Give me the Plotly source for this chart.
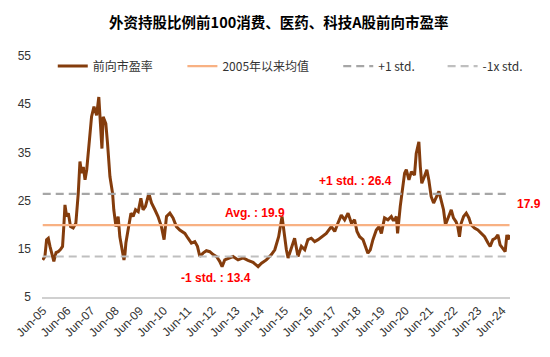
import plotly.graph_objects as go

# ---- data (time as decimal year, forward P/E) ----
dates = [
    2005.41, 2005.50, 2005.57, 2005.64, 2005.71, 2005.78, 2005.87, 2005.96, 2006.05, 2006.15,
    2006.23, 2006.29, 2006.33, 2006.40, 2006.47, 2006.56, 2006.67, 2006.78, 2006.88, 2006.95,
    2007.02, 2007.09, 2007.16, 2007.23, 2007.33, 2007.43, 2007.53, 2007.64, 2007.73, 2007.82,
    2007.86, 2007.91, 2008.02, 2008.09, 2008.19, 2008.30, 2008.35, 2008.44, 2008.53, 2008.60,
    2008.71, 2008.77, 2008.81, 2008.85, 2008.94, 2009.06, 2009.15, 2009.25, 2009.36, 2009.47,
    2009.56, 2009.66, 2009.80, 2009.91, 2010.05, 2010.18, 2010.32, 2010.43, 2010.53, 2010.67,
    2010.80, 2010.94, 2011.08, 2011.29, 2011.42, 2011.56, 2011.70, 2011.81, 2011.91, 2012.04,
    2012.18, 2012.32, 2012.46, 2012.60, 2012.73, 2012.83, 2012.94, 2013.15, 2013.28, 2013.49,
    2013.70, 2013.90, 2014.11, 2014.32, 2014.46, 2014.66, 2014.87, 2015.01, 2015.17, 2015.31,
    2015.38, 2015.49, 2015.56, 2015.70, 2015.83, 2015.97, 2016.11, 2016.25, 2016.38, 2016.52,
    2016.66, 2016.80, 2016.94, 2017.14, 2017.35, 2017.49, 2017.62, 2017.76, 2017.90, 2018.04,
    2018.18, 2018.31, 2018.41, 2018.52, 2018.66, 2018.77, 2018.86, 2018.96, 2019.07, 2019.21,
    2019.32, 2019.42, 2019.55, 2019.69, 2019.83, 2019.90, 2019.97, 2020.04, 2020.09, 2020.20,
    2020.28, 2020.38, 2020.45, 2020.56, 2020.66, 2020.79, 2020.86, 2020.97, 2021.03, 2021.09,
    2021.20, 2021.30, 2021.38, 2021.48, 2021.58, 2021.69, 2021.80, 2021.89, 2021.99, 2022.07,
    2022.17, 2022.31, 2022.40, 2022.51, 2022.58, 2022.65, 2022.72, 2022.82, 2022.93, 2023.04,
    2023.13, 2023.27, 2023.41, 2023.55, 2023.69, 2023.83, 2023.92, 2024.03, 2024.14, 2024.24,
    2024.33, 2024.44, 2024.54, 2024.61, 2024.66, 2024.72,
]
pe = [
    12.7, 13.4, 16.9, 17.2, 15.5, 14.2, 12.4, 14.2, 14.4, 14.9,
    15.5, 20.3, 24.1, 21.7, 22.4, 19.6, 19.3, 20.3, 26.5, 33.1,
    30.7, 32.0, 29.3, 31.4, 36.2, 42.4, 44.5, 42.7, 46.5, 40.3,
    35.8, 42.4, 41.0, 36.9, 30.0, 26.5, 23.1, 19.6, 21.7, 17.5,
    14.8, 12.7, 13.8, 16.2, 18.9, 22.4, 21.7, 23.1, 22.7, 25.5,
    23.1, 23.8, 26.5, 24.5, 23.1, 21.7, 19.6, 16.9, 21.7, 22.4,
    21.4, 19.6, 18.9, 18.2, 17.2, 16.2, 16.5, 15.5, 13.4, 14.1,
    14.6, 14.4, 13.8, 13.4, 12.4, 11.3, 12.7, 13.1, 13.4, 12.7,
    13.1, 12.6, 12.2, 11.3, 12.0, 12.7, 13.8, 14.8, 17.5, 21.7,
    18.9, 14.8, 13.1, 15.5, 17.2, 13.4, 15.5, 14.8, 16.9, 17.2,
    16.5, 16.9, 17.5, 18.2, 19.6, 18.6, 20.3, 22.0, 21.0, 22.4,
    20.3, 21.0, 18.6, 17.5, 16.9, 15.1, 14.1, 14.8, 16.9, 18.9,
    19.6, 18.2, 21.4, 21.0, 21.7, 21.0, 21.0, 21.7, 18.2, 23.8,
    26.5, 30.7, 31.4, 29.3, 31.0, 30.3, 34.8, 37.2, 32.0, 28.6,
    30.0, 31.4, 29.3, 25.8, 24.5, 25.8, 26.9, 25.1, 23.1, 20.0,
    21.4, 23.1, 21.4, 20.6, 19.6, 17.5, 20.3, 21.7, 22.4, 21.4,
    20.0, 19.3, 18.9, 18.2, 17.5, 16.2, 15.5, 16.9, 17.2, 17.9,
    15.8, 15.1, 14.4, 17.9, 16.9, 17.9,
]
avg_value = 19.9
plus_std = 26.4
minus_std = 13.4
latest = 17.9

tick_years = [2005.42 + i for i in range(20)]
tick_labels = ["Jun-05", "Jun-06", "Jun-07", "Jun-08", "Jun-09", "Jun-10", "Jun-11",
               "Jun-12", "Jun-13", "Jun-14", "Jun-15", "Jun-16", "Jun-17", "Jun-18",
               "Jun-19", "Jun-20", "Jun-21", "Jun-22", "Jun-23", "Jun-24"]
y_ticks = [5, 15, 25, 35, 45, 55]

series_names = ["前向市盈率", "2005年以来均值", "+1 std.", "-1x std."]
title_text = "外资持股比例前100消费、医药、科技A股前向市盈率"

FONT = "Liberation Sans, Arial, Noto Sans CJK SC, sans-serif"
CJK = "Noto Sans CJK SC, Liberation Sans, sans-serif"

fig = go.Figure()
fig.add_trace(go.Scatter(x=dates, y=pe, mode="lines", name=series_names[0], legend="legend",
                         line=dict(color="#843C0C", width=3)))
xs = [dates[0], dates[-1]]
fig.add_trace(go.Scatter(x=xs, y=[avg_value] * 2, mode="lines", name=series_names[1], legend="legend2",
                         line=dict(color="#F8B183", width=2.2)))
fig.add_trace(go.Scatter(x=xs, y=[plus_std] * 2, mode="lines", name=series_names[2], legend="legend3",
                         line=dict(color="#A6A6A6", width=2.2, dash="8px,5px")))
fig.add_trace(go.Scatter(x=xs, y=[minus_std] * 2, mode="lines", name=series_names[3], legend="legend4",
                         line=dict(color="#BFBFBF", width=2.2, dash="8px,5px")))

red = dict(color="#FF0000", size=12, family=FONT)
fig.add_annotation(x=2014.18, y=22.45, text=f"<b>Avg. : {avg_value}</b>", showarrow=False, font=red)
fig.add_annotation(x=2018.35, y=29.1, text=f"<b>+1 std. : {plus_std}</b>", showarrow=False, font=red)
fig.add_annotation(x=2012.57, y=9.0, text=f"<b>-1 std. : {minus_std}</b>", showarrow=False, font=red)
fig.add_annotation(x=1.04, xref="paper", xanchor="center", y=24.3, text=f"<b>{latest}</b>",
                   showarrow=False, font=red)

def leg(xpos):
    return dict(orientation="h", x=xpos, xanchor="left", y=0.958, yanchor="middle",
                bgcolor="rgba(0,0,0,0)", font=dict(family=CJK, size=12, color="#333333"),
                itemwidth=30)

fig.update_layout(
    width=550, height=357,
    margin=dict(l=42, r=40, t=56, b=60),
    paper_bgcolor="white", plot_bgcolor="white",
    title=dict(text=f"<b>{title_text}</b>", x=0.507, xanchor="center", y=0.935, yanchor="middle",
               font=dict(family=CJK, size=14.5, color="#000000")),
    font=dict(family=CJK, size=12, color="#333333"),
    showlegend=True,
    legend=leg(0.023), legend2=leg(0.300), legend3=leg(0.633), legend4=leg(0.856),
    xaxis=dict(range=[2005.38, 2024.74], tickvals=tick_years, ticktext=tick_labels,
               tickangle=-45, showgrid=False, zeroline=False, showline=True,
               linecolor="#D0D0D0", linewidth=2, ticks="", automargin=False,
               tickfont=dict(family=FONT, size=12, color="#333333")),
    yaxis=dict(range=[5, 55], tickvals=y_ticks, showgrid=False, zeroline=False,
               showline=False, ticks="", ticklabelstandoff=10, automargin=False,
               tickfont=dict(family=FONT, size=12, color="#333333")),
)

fig.write_html("out.html", config={"displayModeBar": False},
               post_script="document.body.style.margin='0';")
